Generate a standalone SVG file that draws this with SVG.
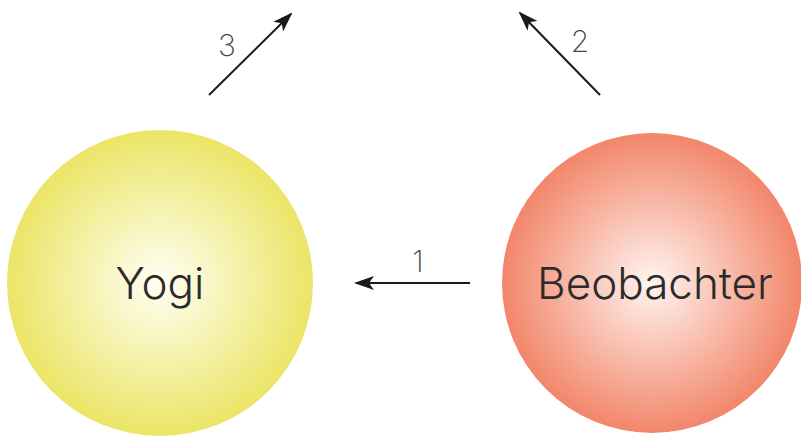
<svg xmlns="http://www.w3.org/2000/svg" width="801" height="438" viewBox="0 0 801 438">
<style>
.lbl{font-family:Inter,"Liberation Sans",Arial,sans-serif;font-weight:300;fill:#2b2b2b;}
.num{font-family:Inter,"Liberation Sans",Arial,sans-serif;font-weight:200;font-size:30px;fill:#444;}
.edge{stroke:#1a1a1a;stroke-width:2;fill:none;marker-end:url(#ah);}
</style>
<defs>
<radialGradient id="gy" cx="50%" cy="50%" r="50%">
<stop offset="0" stop-color="#fffff4"/>
<stop offset="1" stop-color="#ebe566"/>
</radialGradient>
<radialGradient id="gr" cx="50%" cy="50%" r="50%">
<stop offset="0" stop-color="#fff4f0"/>
<stop offset="1" stop-color="#f2866a"/>
</radialGradient>
<marker id="ah" viewBox="0 0 20 14" refX="18" refY="7" markerWidth="20" markerHeight="14" markerUnits="userSpaceOnUse" orient="auto">
<path d="M0,0 L20,7 L0,14 L5,7 Z" fill="#1a1a1a"/>
</marker>
</defs>
<g id="yogi">
<circle cx="160" cy="283" r="153" fill="url(#gy)"/>
<text class="lbl" x="160" y="299" font-size="44" text-anchor="middle">Yogi</text>
</g>
<g id="beobachter">
<circle cx="652" cy="283" r="150" fill="url(#gr)"/>
<text class="lbl" x="655" y="299" font-size="44" text-anchor="middle">Beobachter</text>
</g>
<g id="connectors">
<line class="edge" x1="209" y1="95" x2="291" y2="14"/>
<text class="num" x="227" y="56" text-anchor="middle">3</text>
<line class="edge" x1="600" y1="95" x2="520" y2="13"/>
<text class="num" x="580" y="52" text-anchor="middle">2</text>
<line class="edge" x1="470" y1="283" x2="356" y2="283"/>
<text class="num" x="418" y="272" text-anchor="middle">1</text>
</g>
</svg>
